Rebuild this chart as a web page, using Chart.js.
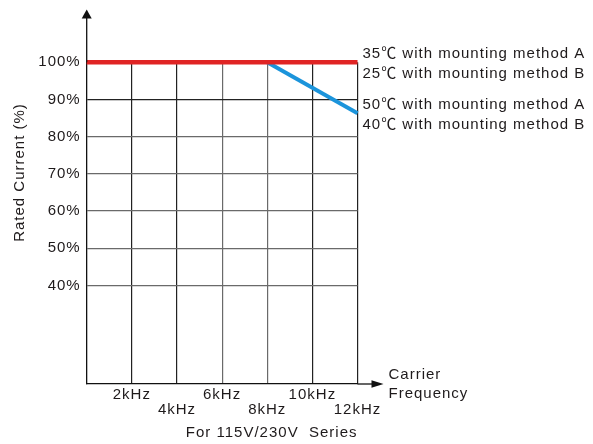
<!DOCTYPE html>
<html>
<head>
<meta charset="utf-8">
<script src="https://cdn.jsdelivr.net/npm/chart.js@4.4.0/dist/chart.umd.min.js"></script>
<style>
  html, body { margin: 0; padding: 0; background: #fff; }
</style>
</head>
<body>
<canvas id="chart" width="593" height="444"></canvas>
<script>
// Derating curve: carrier frequency (kHz) vs rated current (%)
const xTickValues = [2, 4, 6, 8, 10, 12];
const xTickLabels = ['2kHz', '4kHz', '6kHz', '8kHz', '10kHz', '12kHz'];
const yTickValues = [40, 50, 60, 70, 80, 90, 100];

const lowTempFreq = [0, 12];
const lowTempCurrent = [100, 100];
const lowTempLabel = ['35℃ with mounting method A', '25℃ with mounting method B'];

const highTempFreq = [8, 12];
const highTempCurrent = [100, 86.3];
const highTempLabel = ['50℃ with mounting method A', '40℃ with mounting method B'];

const FAMILY = '"Liberation Sans", "Noto Sans CJK JP", Arial, sans-serif';
const TEXT = '#1e1a1b';
const SPACING = '1px';

const toPoints = (xs, ys) => xs.map((x, i) => ({ x: x, y: ys[i] }));

// darker grid lines where the scan shows them darker
const darkX = [2, 4, 10, 12];
const darkY = [90];

// arrows, line-end labels and the rotated y title
const decorations = {
    id: 'decorations',
    beforeLayout(chart) { chart.ctx.letterSpacing = SPACING; },
    beforeDraw(chart) { chart.ctx.letterSpacing = SPACING; },
    afterDraw(chart) {
        const ctx = chart.ctx;
        const { left, right, top, bottom } = chart.chartArea;
        ctx.save();
        ctx.letterSpacing = SPACING;
        ctx.fillStyle = '#111';
        ctx.strokeStyle = '#111';
        ctx.lineWidth = 1.3;

        // y axis arrow
        ctx.beginPath();
        ctx.moveTo(left, top);
        ctx.lineTo(left, 17);
        ctx.stroke();
        ctx.beginPath();
        ctx.moveTo(left, 9.5);
        ctx.lineTo(left - 5, 18.5);
        ctx.lineTo(left + 5, 18.5);
        ctx.closePath();
        ctx.fill();

        // x axis arrow
        ctx.beginPath();
        ctx.moveTo(right, bottom);
        ctx.lineTo(right + 15, bottom);
        ctx.stroke();
        ctx.beginPath();
        ctx.moveTo(right + 26, bottom);
        ctx.lineTo(right + 14, bottom - 3.8);
        ctx.lineTo(right + 14, bottom + 3.8);
        ctx.closePath();
        ctx.fill();

        ctx.fillStyle = TEXT;
        ctx.font = '15px ' + FAMILY;
        ctx.textAlign = 'left';
        ctx.textBaseline = 'middle';

        ctx.fillText('Carrier', right + 31, bottom - 9);
        ctx.fillText('Frequency', right + 31, bottom + 10);

        chart.data.datasets.forEach((ds, i) => {
            const pts = chart.getDatasetMeta(i).data;
            const end = pts[pts.length - 1];
            ds.endLabel.forEach((t, k) => {
                ctx.fillText(t, end.x + 5, end.y - 8 + k * 20);
            });
        });

        // y title
        ctx.translate(19.5, 172.5);
        ctx.rotate(-Math.PI / 2);
        ctx.textAlign = 'center';
        ctx.fillText('Rated Current (%)', 0, 0);
        ctx.restore();
    }
};

new Chart(document.getElementById('chart'), {
    type: 'line',
    data: {
        datasets: [
            {
                label: lowTempLabel.join(' / '),
                endLabel: lowTempLabel,
                data: toPoints(lowTempFreq, lowTempCurrent),
                borderColor: '#e02424',
                borderWidth: 4.5,
                clip: false
            },
            {
                label: highTempLabel.join(' / '),
                endLabel: highTempLabel,
                data: toPoints(highTempFreq, highTempCurrent),
                borderColor: '#1b94db',
                borderWidth: 4,
                clip: false
            }
        ]
    },
    options: {
        responsive: false,
        animation: false,
        devicePixelRatio: 1,
        layout: {
            padding: { left: 0, top: 62.3, right: 235.5, bottom: 0 }
        },
        elements: {
            point: { radius: 0 },
            line: { tension: 0, borderCapStyle: 'butt' }
        },
        plugins: {
            legend: { display: false },
            tooltip: { enabled: false }
        },
        scales: {
            x: {
                type: 'linear',
                min: 0,
                max: 12,
                afterBuildTicks: scale => {
                    scale.ticks = xTickValues.map(v => ({ value: v }));
                },
                afterFit: scale => { scale.height = 60; },
                border: { color: '#111', width: 1.3 },
                grid: {
                    drawTicks: false,
                    lineWidth: 1.2,
                    color: c => darkX.includes(c.tick && c.tick.value) ? '#222' : '#6a6a6a'
                },
                ticks: {
                    padding: 4,
                    maxRotation: 0,
                    autoSkip: false,
                    color: TEXT,
                    font: { family: FAMILY, size: 15, lineHeight: 0.97 },
                    callback: (v, i) => i % 2 === 0 ? [xTickLabels[i], ''] : ['', xTickLabels[i]]
                },
                title: {
                    display: true,
                    text: 'For 115V/230V  Series',
                    align: 'end',
                    color: TEXT,
                    padding: { top: 0, bottom: 2 },
                    font: { family: FAMILY, size: 15 }
                }
            },
            y: {
                min: 13.5,
                max: 100,
                afterBuildTicks: scale => {
                    scale.ticks = yTickValues.map(v => ({ value: v }));
                },
                afterFit: scale => { scale.width = 86.7; },
                border: { color: '#111', width: 1.3 },
                grid: {
                    drawTicks: false,
                    lineWidth: 1.2,
                    color: c => darkY.includes(c.tick && c.tick.value) ? '#222' : '#6a6a6a'
                },
                ticks: {
                    padding: 6,
                    color: TEXT,
                    font: { family: FAMILY, size: 15 },
                    callback: v => v + '%'
                }
            }
        }
    },
    plugins: [decorations]
});
</script>
</body>
</html>
